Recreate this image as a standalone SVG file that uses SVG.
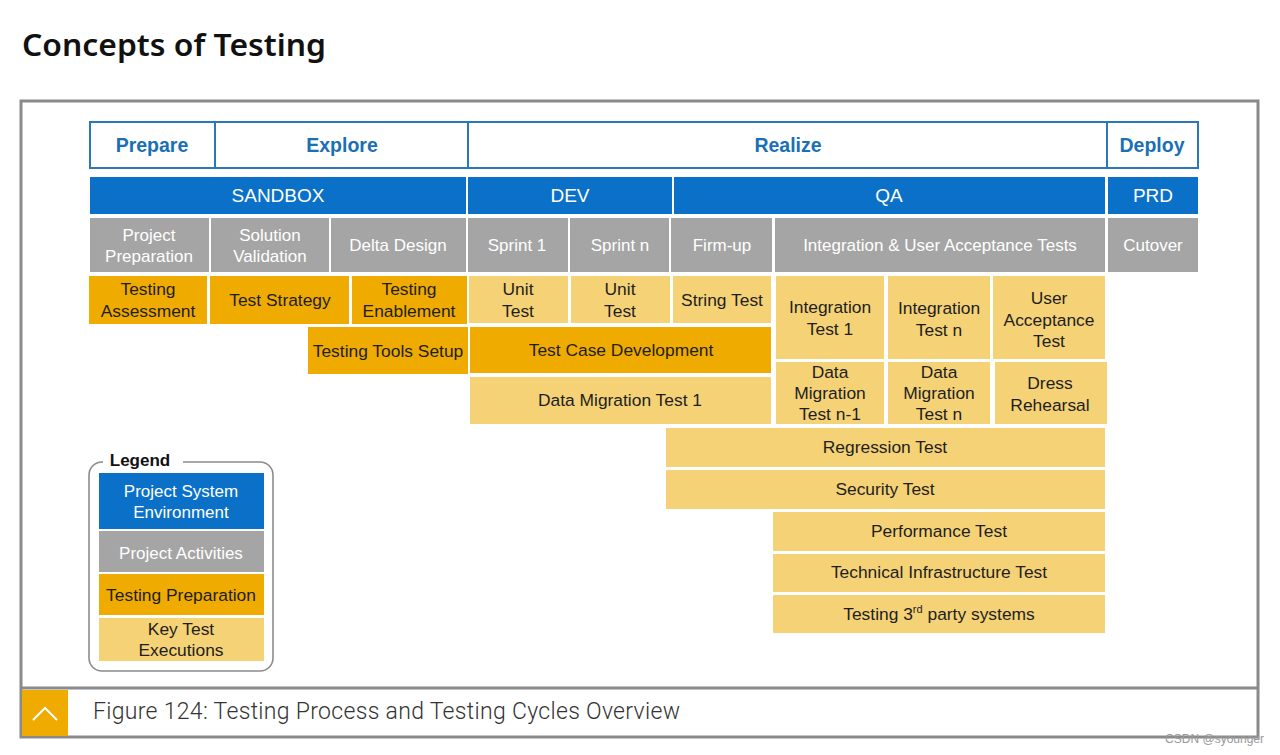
<svg xmlns="http://www.w3.org/2000/svg" width="1280" height="755" viewBox="0 0 1280 755">
<style>
text{font-family:"Liberation Sans",Arial,sans-serif;text-anchor:middle}
.hd{fill:#fff;stroke:#2a78b8;stroke-width:2}
.hdt{fill:#1a6fb5;font-weight:bold;font-size:19.5px}
.env{fill:#0a70c8}
.envt{fill:#fff;font-size:19px}
.act{fill:#a5a5a5}
.actt{fill:#fff;font-size:17px}
.prep{fill:#f0ab00}
.exec{fill:#f5d276}
.dk{fill:#1e1e1e;font-size:17.4px}
</style>
<rect width="1280" height="755" fill="#fff"/>
<text x="22" y="56" style="text-anchor:start;font-family:'Noto Sans','Open Sans',sans-serif;font-weight:600;font-size:31px" fill="#111" textLength="304" lengthAdjust="spacingAndGlyphs">Concepts of Testing</text>
<g id="frame" fill="none" stroke="#8a8a8a" stroke-width="3">
<rect x="21" y="101" width="1237" height="636"/>
<line x1="21" y1="688" x2="1258" y2="688"/>
</g>
<g id="phases">
<g id="prepare"><rect class="hd" x="90" y="122" width="125" height="46"/><text class="hdt" x="152" y="152">Prepare</text></g>
<g id="explore"><rect class="hd" x="215" y="122" width="253" height="46"/><text class="hdt" x="342" y="152">Explore</text></g>
<g id="realize"><rect class="hd" x="468" y="122" width="639" height="46"/><text class="hdt" x="788" y="152">Realize</text></g>
<g id="deploy"><rect class="hd" x="1107" y="122" width="91" height="46"/><text class="hdt" x="1152" y="152">Deploy</text></g>
</g>
<g id="envs">
<g id="sandbox"><rect class="env" x="90" y="177" width="376" height="37"/><text class="envt" x="278" y="202">SANDBOX</text></g>
<g id="dev"><rect class="env" x="468" y="177" width="204" height="37"/><text class="envt" x="570" y="202">DEV</text></g>
<g id="qa"><rect class="env" x="674" y="177" width="431" height="37"/><text class="envt" x="889" y="202">QA</text></g>
<g id="prd"><rect class="env" x="1108" y="177" width="90" height="37"/><text class="envt" x="1153" y="202">PRD</text></g>
</g>
<g id="activities">
<g id="projprep"><rect class="act" x="90" y="218" width="119" height="54"/><text class="actt" x="149" y="241">Project</text><text class="actt" x="149" y="262">Preparation</text></g>
<g id="solval"><rect class="act" x="211" y="218" width="118" height="54"/><text class="actt" x="270" y="241">Solution</text><text class="actt" x="270" y="262">Validation</text></g>
<g id="delta"><rect class="act" x="331" y="218" width="135" height="54"/><text class="actt" x="398" y="251">Delta Design</text></g>
<g id="sprint1"><rect class="act" x="468" y="218" width="100" height="54"/><text class="actt" x="517" y="251">Sprint 1</text></g>
<g id="sprintn"><rect class="act" x="570" y="218" width="99" height="54"/><text class="actt" x="620" y="251">Sprint n</text></g>
<g id="firmup"><rect class="act" x="671" y="218" width="101" height="54"/><text class="actt" x="722" y="251">Firm-up</text></g>
<g id="iuat"><rect class="act" x="775" y="218" width="330" height="54"/><text class="actt" x="940" y="251">Integration &amp; User Acceptance Tests</text></g>
<g id="cutover"><rect class="act" x="1108" y="218" width="90" height="54"/><text class="actt" x="1153" y="251">Cutover</text></g>
</g>
<g id="tests">
<g id="testassess"><rect class="prep" x="89" y="276" width="118" height="48"/><text class="dk" x="148" y="295">Testing</text><text class="dk" x="148" y="317">Assessment</text></g>
<g id="teststrat"><rect class="prep" x="210" y="276" width="139" height="48"/><text class="dk" x="280" y="306">Test Strategy</text></g>
<g id="testenable"><rect class="prep" x="352" y="276" width="115" height="48"/><text class="dk" x="409" y="295">Testing</text><text class="dk" x="409" y="317">Enablement</text></g>
<g id="unit1"><rect class="exec" x="469" y="276" width="99" height="47"/><text class="dk" x="518" y="295">Unit</text><text class="dk" x="518" y="317">Test</text></g>
<g id="unitn"><rect class="exec" x="571" y="276" width="99" height="47"/><text class="dk" x="620" y="295">Unit</text><text class="dk" x="620" y="317">Test</text></g>
<g id="string"><rect class="exec" x="673" y="276" width="98" height="47"/><text class="dk" x="722" y="306">String Test</text></g>
<g id="int1"><rect class="exec" x="776" y="276" width="108" height="83"/><text class="dk" x="830" y="313">Integration</text><text class="dk" x="830" y="335">Test 1</text></g>
<g id="intn"><rect class="exec" x="888" y="276" width="102" height="83"/><text class="dk" x="939" y="314">Integration</text><text class="dk" x="939" y="336">Test n</text></g>
<g id="uat"><rect class="exec" x="993" y="276" width="112" height="83"/><text class="dk" x="1049" y="304">User</text><text class="dk" x="1049" y="326">Acceptance</text><text class="dk" x="1049" y="347">Test</text></g>
<g id="toolsetup"><rect class="prep" x="308" y="327" width="160" height="47"/><text class="dk" x="388" y="357">Testing Tools Setup</text></g>
<g id="tcd"><rect class="prep" x="470" y="327" width="301" height="46"/><text class="dk" x="621" y="356">Test Case Development</text></g>
<g id="dmt1"><rect class="exec" x="470" y="377" width="301" height="47"/><text class="dk" x="620" y="406">Data Migration Test 1</text></g>
<g id="dmtn1"><rect class="exec" x="776" y="362" width="108" height="62"/><text class="dk" x="830" y="378">Data</text><text class="dk" x="830" y="399">Migration</text><text class="dk" x="830" y="420">Test n-1</text></g>
<g id="dmtn"><rect class="exec" x="888" y="362" width="102" height="62"/><text class="dk" x="939" y="378">Data</text><text class="dk" x="939" y="399">Migration</text><text class="dk" x="939" y="420">Test n</text></g>
<g id="dress"><rect class="exec" x="995" y="362" width="112" height="62"/><text class="dk" x="1050" y="389">Dress</text><text class="dk" x="1050" y="411">Rehearsal</text></g>
<g id="regression"><rect class="exec" x="666" y="428" width="439" height="39"/><text class="dk" x="885" y="453">Regression Test</text></g>
<g id="security"><rect class="exec" x="666" y="470" width="439" height="39"/><text class="dk" x="885" y="495">Security Test</text></g>
<g id="performance"><rect class="exec" x="773" y="512" width="332" height="39"/><text class="dk" x="939" y="537">Performance Test</text></g>
<g id="techinfra"><rect class="exec" x="773" y="554" width="332" height="38"/><text class="dk" x="939" y="578">Technical Infrastructure Test</text></g>
<g id="thirdparty"><rect class="exec" x="773" y="595" width="332" height="38"/><text class="dk" x="939" y="620">Testing 3<tspan font-size="11" dy="-7">rd</tspan><tspan dy="7"> party systems</tspan></text></g>
</g>
<g id="legend">
<rect x="89" y="462" width="184" height="209" rx="13" fill="none" stroke="#8c8c8c" stroke-width="1.6"/>
<rect x="103" y="452" width="80" height="16" fill="#fff"/>
<text x="140" y="466" style="font-weight:bold;font-size:17px" fill="#111">Legend</text>
<rect class="env" x="99" y="473" width="165" height="56"/><text class="actt" x="181" y="497">Project System</text><text class="actt" x="181" y="518">Environment</text>
<rect class="act" x="99" y="531" width="165" height="41"/><text class="actt" x="181" y="559">Project Activities</text>
<rect class="prep" x="99" y="574" width="165" height="41"/><text class="dk" x="181" y="601">Testing Preparation</text>
<rect class="exec" x="99" y="618" width="165" height="43"/><text class="dk" x="181" y="635">Key Test</text><text class="dk" x="181" y="656">Executions</text>
</g>
<g id="caption">
<rect x="22" y="690" width="46" height="46" fill="#f0ab00"/>
<polyline points="33,720 45,708 57,720" fill="none" stroke="#fff" stroke-width="2"/>
<text x="93" y="719" style="text-anchor:start;font-family:Roboto,sans-serif;font-weight:300;font-size:23px" fill="#333" textLength="587">Figure 124: Testing Process and Testing Cycles Overview</text>
</g>
<text x="1264" y="743" style="text-anchor:end;font-size:12px" fill="#999">CSDN @syounger</text>
</svg>
